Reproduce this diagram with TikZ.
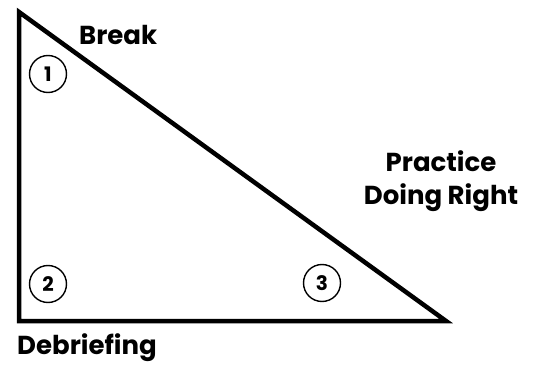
\documentclass[tikz,border=0pt]{standalone}
\usepackage{fontspec}
\setmainfont{Poppins}
\usetikzlibrary{positioning}
\tikzset{
  side/.style={line width=4.5pt,line join=miter},
  stage/.style={circle,draw,line width=1.4pt,minimum size=37pt,inner sep=0pt,
    font=\fontsize{20}{20}\selectfont\bfseries},
  phase/.style={font=\fontsize{26}{33}\selectfont\bfseries,inner sep=0pt,align=center},
}
\begin{document}
\begin{tikzpicture}[x=1pt,y=-1pt]
  \useasboundingbox (0,0) rectangle (538,366);
  \coordinate (top) at (19,12);
  \coordinate (corner) at (19,321);
  \coordinate (tip) at (446,321);
  \draw[side] (top) -- (corner) -- (tip) -- cycle;
  % stages
  \node[stage] (s1) at (48,74) {1};
  \node[stage] (s2) at (48,284) {2};
  \node[stage] (s3) at (322,283) {3};
  % phase labels
  \node[phase,anchor=base west] (break) at (79,45) {Break};
  \node[phase,anchor=base] (practice) at (441,205) {Practice\\Doing Right};
  \node[phase,anchor=base west] (debrief) at (17,354) {Debriefing};
\end{tikzpicture}
\end{document}
